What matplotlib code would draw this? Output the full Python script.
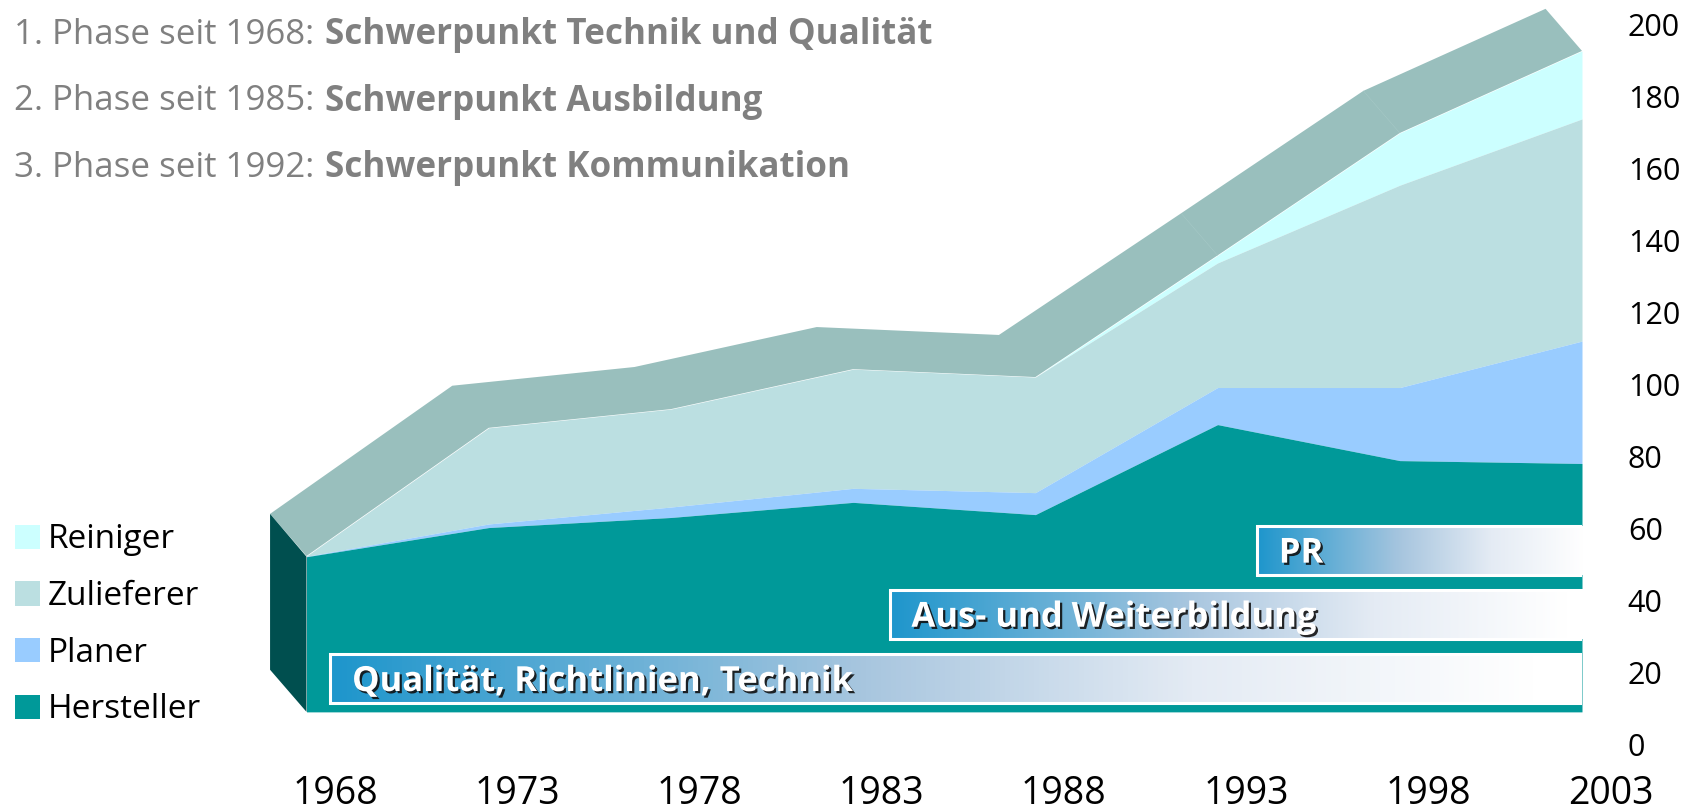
import numpy as np
import matplotlib
matplotlib.use("Agg")
import matplotlib.pyplot as plt
import matplotlib.patheffects as pe
from matplotlib.colors import LinearSegmentedColormap
from matplotlib.patches import Patch, Rectangle
from matplotlib.transforms import ScaledTranslation

plt.rcParams["font.family"] = ["Open Sans", "DejaVu Sans"]

# cumulative tops of the stacked areas
years = [1968, 1973, 1978, 1983, 1988, 1993, 1998, 2003]
hersteller = [52.3, 60.4, 63.2, 67.4, 64.0, 89.0, 79.0, 78.2]
planer = [52.4, 61.4, 66.1, 71.3, 70.1, 99.3, 99.3, 112.2]
zulieferer = [52.5, 88.1, 93.3, 104.4, 102.2, 133.9, 155.5, 173.9]
reiniger = [52.5, 88.1, 93.3, 104.4, 102.2, 136.0, 170.0, 192.8]
base_value = 9.2

band_labels = ["Qualität, Richtlinien, Technik", "Aus- und Weiterbildung", "PR"]
band_start = [1968.65, 1984.0, 1994.08]
band_low = [11.6, 29.4, 47.3]
band_high = [25.2, 43.1, 60.8]

y_ticks = list(range(0, 201, 20))

phases = ["1. Phase seit 1968:", "2. Phase seit 1985:", "3. Phase seit 1992:"]
focus = ["Schwerpunkt Technik und Qualität", "Schwerpunkt Ausbildung",
         "Schwerpunkt Kommunikation"]

C_HERST = "#009999"
C_PLANER = "#99ccff"
C_ZULIEF = "#bbdfe1"
C_REIN = "#ccffff"
C_TOP = "#99bfbd"
C_SIDE = "#004f4f"
C_GREY = "#808080"

W, H = 1698, 810
DEPTH_X = 1.0     # years
DEPTH_Y = 11.7    # value units

fig = plt.figure(figsize=(W / 100, H / 100), dpi=100)
ax = fig.add_axes([250 / W, (H - 745) / H, (1582 - 250) / W, 745 / H])

x = np.array(years, dtype=float)
top = np.array(reiniger)

# 3D parts: roof and left wall
ax.fill(np.r_[x, (x - DEPTH_X)[::-1]], np.r_[top, (top + DEPTH_Y)[::-1]],
        color=C_TOP, lw=0, zorder=1)
ax.fill([x[0] - DEPTH_X, x[0], x[0], x[0] - DEPTH_X],
        [top[0] + DEPTH_Y, hersteller[0], base_value, base_value + DEPTH_Y],
        color=C_SIDE, lw=0, zorder=1)
for i in [5, 6]:
    ax.plot([x[i], x[i] - DEPTH_X], [top[i], top[i] + DEPTH_Y],
            color="#a9cbc9", lw=0.3, zorder=1.5)

# stacked areas
ax.fill_between(x, zulieferer, reiniger, color=C_REIN, lw=0, zorder=2)
ax.fill_between(x, planer, zulieferer, color=C_ZULIEF, lw=0, zorder=2)
ax.fill_between(x, hersteller, planer, color=C_PLANER, lw=0, zorder=2)
ax.fill_between(x, base_value, hersteller, color=C_HERST, lw=0, zorder=2)

# gradient bands, run a little past the axes edge so no teal shows there
cmap = LinearSegmentedColormap.from_list(
    "band", [(0, "#1e96cc"), (0.42, "#a8c6df"), (0.68, "#e4ebf4"), (0.95, "#ffffff"), (1, "#ffffff")])
grad = np.linspace(0, 1, 256).reshape(1, -1)
for label, x0, lo, hi in zip(band_labels, band_start, band_low, band_high):
    ax.imshow(grad, extent=[x0, 2003.5, lo, hi], cmap=cmap, vmin=0, vmax=1,
              aspect="auto", interpolation="bilinear", zorder=3)
    ax.add_patch(Rectangle((x0, lo), 2006 - x0, hi - lo, fc="none", ec="white",
                           lw=2.2, zorder=4))
    ax.text(x0 + 0.6, (lo + hi) / 2 - 0.9, label, color="white", fontsize=24.9,
            fontweight="bold", ha="left", va="center", zorder=5,
            path_effects=[pe.withSimplePatchShadow(offset=(1.6, -1.6),
                                                   shadow_rgbFace="#111111",
                                                   alpha=0.9)])
ax.set_xlim(1968 - (306.5 - 250) / 36.44, 2003)
ax.set_ylim(0, 745 / 3.6)

# axes
for sp in ax.spines.values():
    sp.set_visible(False)
ax.patch.set_visible(False)
ax.yaxis.tick_right()
ax.set_yticks(y_ticks)
ax.tick_params(axis="y", length=0, pad=33, labelsize=22)
ax.set_xticks(years)
ax.tick_params(axis="x", length=0, pad=21.5, labelsize=27)
offset = ScaledTranslation(28.5 / 100, 0, fig.dpi_scale_trans)
for lab in ax.get_xticklabels():
    lab.set_transform(lab.get_transform() + offset)

# legend
handles = [Patch(fc=C_REIN, label="Reiniger"), Patch(fc=C_ZULIEF, label="Zulieferer"),
           Patch(fc=C_PLANER, label="Planer"), Patch(fc=C_HERST, label="Hersteller")]
fig.legend(handles=handles, loc="lower left", bbox_to_anchor=(0.0, 0.085),
           frameon=False, fontsize=24, handlelength=0.75, handleheight=0.75,
           handletextpad=0.25, labelspacing=0.71, borderpad=0.2, borderaxespad=0.24)

# phase headings
for i, (a, b) in enumerate(zip(phases, focus)):
    y = 1 - (35 + i * 66.5) / H
    fig.text(14 / W, y, a, color=C_GREY, fontsize=25.1, va="center", ha="left")
    fig.text(325 / W, y, b, color=C_GREY, fontsize=25.2, va="center", ha="left",
             fontweight="bold")

fig.savefig("out.png", dpi=100)
